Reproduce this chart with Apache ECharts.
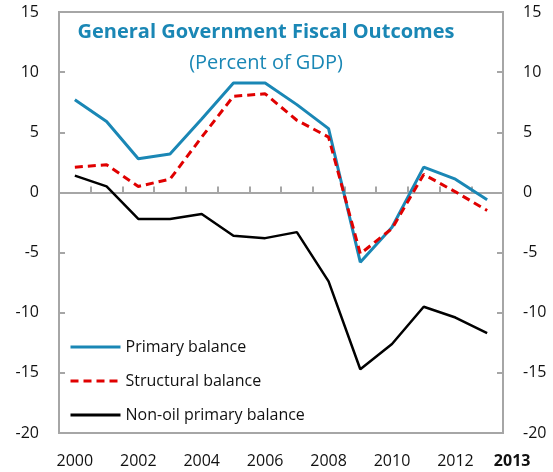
<!DOCTYPE html>
<html>
<head>
<meta charset="utf-8">
<script src="https://cdn.jsdelivr.net/npm/echarts@6/dist/echarts.min.js"></script>
<style>html,body{margin:0;padding:0;background:#fff;}#c{width:553px;height:472px;}</style>
</head>
<body>
<div id="c"></div>
<script>
const years = ['2000','2001','2002','2003','2004','2005','2006','2007','2008','2009','2010','2011','2012','2013'];
const primaryBalance = [7.7, 5.9, 2.8, 3.2, 6.1, 9.1, 9.1, 7.3, 5.3, -5.8, -2.9, 2.1, 1.1, -0.6];
const structuralBalance = [2.1, 2.3, 0.5, 1.1, 4.6, 8.0, 8.2, 6.0, 4.6, -5.1, -3.0, 1.5, 0.05, -1.5];
const nonOilPrimaryBalance = [1.4, 0.5, -2.2, -2.2, -1.8, -3.6, -3.8, -3.3, -7.4, -14.7, -12.6, -9.5, -10.4, -11.7];
const yTicks = {min: -20, max: 15, step: 5};
const titleText = 'General Government Fiscal Outcomes';
const subtitleText = '(Percent of GDP)';

const FONT = '"Open Sans", "Noto Sans", sans-serif';
const BLUE = '#1a87b5';
const GRAY = '#a6a6a6';
const chart = echarts.init(document.getElementById('c'), null, {renderer: 'canvas'});
const yAxisCommon = {
  type: 'value', min: yTicks.min, max: yTicks.max, interval: yTicks.step,
  axisLine: {show: true, lineStyle: {color: GRAY, width: 2}},
  axisTick: {show: true, inside: true, length: 6, lineStyle: {color: GRAY, width: 2}},
  splitLine: {show: false},
  axisLabel: {color: '#111', fontSize: 16, fontFamily: FONT, margin: 20}
};
const lastIdx = years.length - 1;
chart.setOption({
  animation: false,
  title: [
    {text: titleText, left: 261, top: 17, textAlign: 'center',
     textStyle: {color: BLUE, fontSize: 20, fontWeight: 'bold', fontFamily: FONT}},
    {text: subtitleText, left: 261, top: 48, textAlign: 'center',
     textStyle: {color: BLUE, fontSize: 20, fontWeight: 'normal', fontFamily: FONT}}
  ],
  grid: {left: 59, right: 50, top: 12, bottom: 39, show: true, borderColor: GRAY, borderWidth: 2, backgroundColor: 'transparent'},
  legend: {
    orient: 'vertical', left: 64, top: 334, itemWidth: 50, itemHeight: 14, itemGap: 18,
    textStyle: {color: '#111', fontSize: 16, fontFamily: FONT},
    itemStyle: {opacity: 0, borderWidth: 0},
    lineStyle: {width: 3},
    data: ['Primary balance', 'Structural balance', 'Non-oil primary balance']
  },
  xAxis: [
    {type: 'category', data: years, boundaryGap: true, position: 'bottom',
     axisLine: {show: false, onZero: false}, axisTick: {show: false},
     axisLabel: {color: '#111', fontSize: 16, fontFamily: FONT, margin: 20, hideOverlap: false,
       interval: function (i) { return i % 2 === 0 || i === lastIdx; },
       formatter: function (v, i) { return i === lastIdx ? '{last|' + v + '}' : v; },
       rich: {last: {fontSize: 16, fontFamily: FONT, fontWeight: 'bold', color: '#111', padding: [0, 0, 0, 50]}}}},
    {type: 'category', data: years, boundaryGap: true, position: 'bottom',
     axisLine: {show: true, onZero: true, lineStyle: {color: GRAY, width: 2}},
     axisTick: {show: true, inside: true, length: 6, interval: 0, lineStyle: {color: GRAY, width: 2}},
     axisLabel: {show: false}}
  ],
  yAxis: [
    Object.assign({}, yAxisCommon, {position: 'left'}),
    Object.assign({}, yAxisCommon, {position: 'right'})
  ],
  series: [
    {name: 'Primary balance', type: 'line', data: primaryBalance, symbol: 'none', z: 3,
     lineStyle: {color: BLUE, width: 3}, itemStyle: {color: BLUE}},
    {name: 'Structural balance', type: 'line', data: structuralBalance, symbol: 'none', z: 4,
     lineStyle: {color: '#e00000', width: 3, type: [8, 5]}, itemStyle: {color: '#e00000'}},
    {name: 'Non-oil primary balance', type: 'line', data: nonOilPrimaryBalance, symbol: 'none', z: 3,
     lineStyle: {color: '#000', width: 2.5}, itemStyle: {color: '#000'}}
  ]
});
</script>
</body>
</html>
